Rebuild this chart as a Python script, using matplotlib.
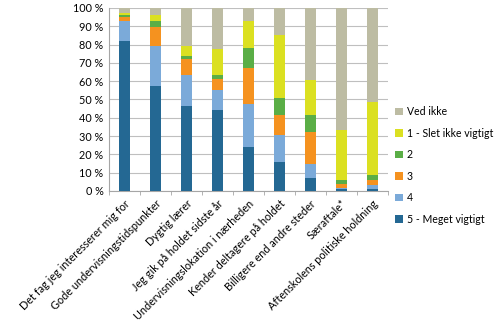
import matplotlib
matplotlib.use("Agg")
import matplotlib.pyplot as plt
import numpy as np
from matplotlib.ticker import FixedLocator, PercentFormatter

categories = ["Det fag jeg interesserer mig for", "Gode undervisningstidspunkter", "Dygtig lærer",
              "Jeg gik på holdet sidste år", "Undervisningslokation i nærheden",
              "Kender deltagere på holdet", "Billigere end andre steder", "Særaftale*",
              "Aftenskolens politiske holdning"]
s5 = [82.0, 57.6, 46.4, 44.3, 24.2, 15.8, 6.9, 0.9, 0.9]
s4 = [11.0, 21.8, 17.2, 10.9, 23.2, 15.0, 7.9, 0.9, 2.4]
s3 = [2.0, 10.0, 8.3, 5.8, 19.6, 10.9, 17.3, 2.2, 2.7]
s2 = [1.3, 3.7, 1.9, 2.4, 11.3, 8.9, 9.4, 1.8, 2.9]
s1 = [1.1, 3.1, 5.3, 14.2, 14.8, 34.6, 19.2, 27.7, 39.9]
ved_ikke = [2.6, 3.8, 20.9, 22.4, 6.9, 14.8, 39.3, 66.5, 51.2]
series_names = ["5 - Meget vigtigt", "4", "3", "2", "1 - Slet ikke vigtigt", "Ved ikke"]
colors = ["#246893", "#7BAAD9", "#F5921F", "#5AAE46", "#DBE021", "#BDBCA3"]

plt.rcParams['font.family'] = ['Lato', 'DejaVu Sans']
fig = plt.figure(figsize=(5, 3.28), dpi=100)
ax = fig.add_axes([0.218, 0.4177, 0.558, 0.558])

x = np.arange(len(categories))
bottom = np.zeros(len(categories))
handles = []
for name, vals, c in zip(series_names, [s5, s4, s3, s2, s1, ved_ikke], colors):
    b = ax.bar(x, vals, bottom=bottom, width=0.38, color=c, label=name, zorder=3)
    handles.append(b)
    bottom += np.array(vals)

ax.set_xlim(-0.5, len(categories) - 0.5)
ax.set_ylim(0, 100)
ax.set_yticks(np.arange(0, 101, 10))
ax.yaxis.set_major_formatter(PercentFormatter(decimals=0, symbol=" %"))
ax.grid(axis='y', color='#BFBFBF', linewidth=0.8, zorder=0)
for sp in ['top', 'right']:
    ax.spines[sp].set_visible(False)
for sp in ['left', 'bottom']:
    ax.spines[sp].set_color('#A6A6A6')
ax.tick_params(axis='y', length=0, labelsize=7.8, pad=4)
ax.set_xticks(x)
ax.set_xticklabels(categories, rotation=45, ha='right', rotation_mode='anchor', fontsize=7.8)
ax.tick_params(axis='x', which='major', length=0, pad=5)
ax.xaxis.set_minor_locator(FixedLocator(np.arange(-0.5, len(categories), 1.0)))
ax.tick_params(axis='x', which='minor', length=3, color='#A6A6A6')

ax.legend(handles[::-1], series_names[::-1], loc='upper left', bbox_to_anchor=(1.0, 0.505),
          frameon=False, fontsize=7.6, handlelength=0.7, handleheight=0.7,
          handletextpad=0.4, labelspacing=1.0, borderaxespad=0.3)

fig.savefig("out.png", dpi=100)
